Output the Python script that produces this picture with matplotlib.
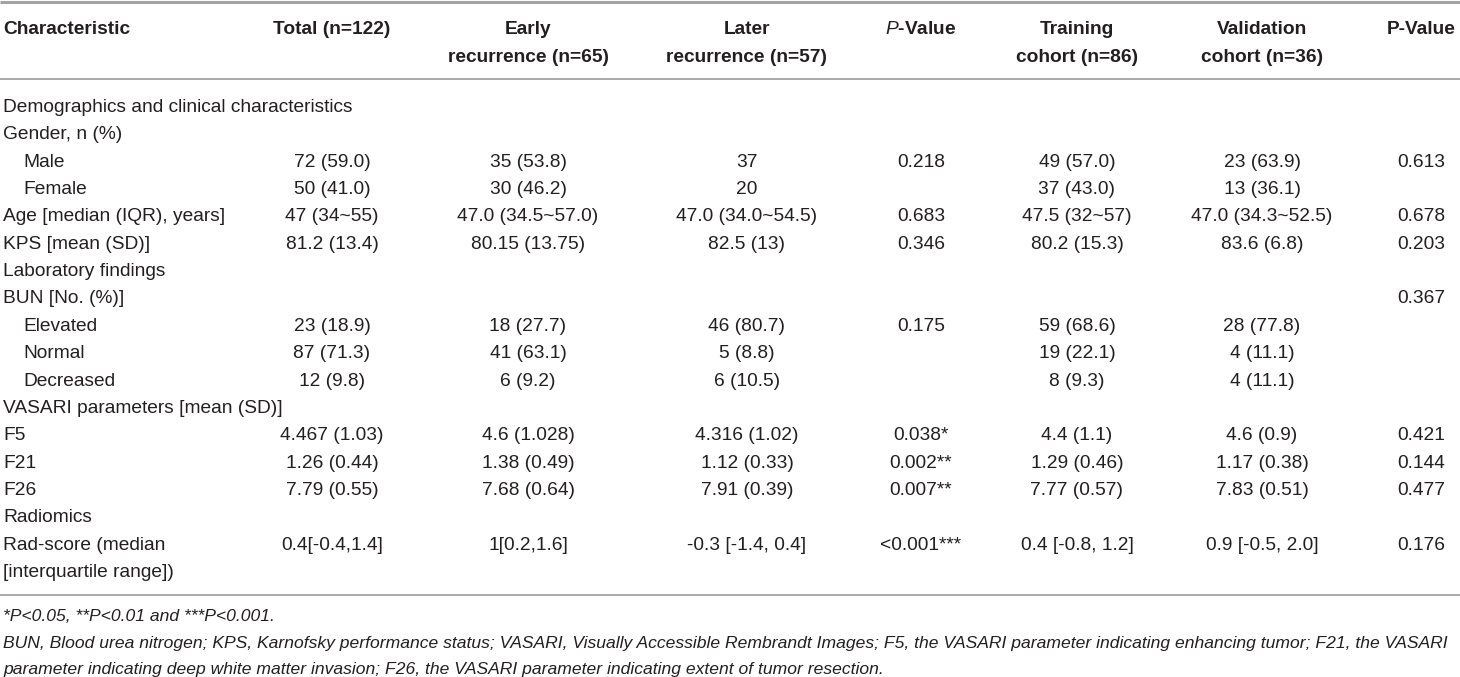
import matplotlib
matplotlib.use("Agg")
import matplotlib.pyplot as plt

# Table content
headers = [
    ["Characteristic", ""],
    ["Total (n=122)", ""],
    ["Early", "recurrence (n=65)"],
    ["Later", "recurrence (n=57)"],
    [r"$\bf{\it{P}}$-Value", ""],
    ["Training", "cohort (n=86)"],
    ["Validation", "cohort (n=36)"],
    ["P-Value", ""],
]

row_labels = [
    "Demographics and clinical characteristics",
    "Gender, n (%)",
    "Male",
    "Female",
    "Age [median (IQR), years]",
    "KPS [mean (SD)]",
    "Laboratory findings",
    "BUN [No. (%)]",
    "Elevated",
    "Normal",
    "Decreased",
    "VASARI parameters [mean (SD)]",
    "F5",
    "F21",
    "F26",
    "Radiomics",
    "Rad-score (median",
    "[interquartile range])",
]
indented = ["Male", "Female", "Elevated", "Normal", "Decreased"]

total = ["", "", "72 (59.0)", "50 (41.0)", "47 (34~55)", "81.2 (13.4)", "", "",
         "23 (18.9)", "87 (71.3)", "12 (9.8)", "", "4.467 (1.03)", "1.26 (0.44)",
         "7.79 (0.55)", "", "0.4[-0.4,1.4]", ""]
early = ["", "", "35 (53.8)", "30 (46.2)", "47.0 (34.5~57.0)", "80.15 (13.75)", "", "",
         "18 (27.7)", "41 (63.1)", "6 (9.2)", "", "4.6 (1.028)", "1.38 (0.49)",
         "7.68 (0.64)", "", "1[0.2,1.6]", ""]
later = ["", "", "37", "20", "47.0 (34.0~54.5)", "82.5 (13)", "", "",
         "46 (80.7)", "5 (8.8)", "6 (10.5)", "", "4.316 (1.02)", "1.12 (0.33)",
         "7.91 (0.39)", "", "-0.3 [-1.4, 0.4]", ""]
p_recur = ["", "", "0.218", "", "0.683", "0.346", "", "",
           "0.175", "", "", "", "0.038*", "0.002**",
           "0.007**", "", "<0.001***", ""]
training = ["", "", "49 (57.0)", "37 (43.0)", "47.5 (32~57)", "80.2 (15.3)", "", "",
            "59 (68.6)", "19 (22.1)", "8 (9.3)", "", "4.4 (1.1)", "1.29 (0.46)",
            "7.77 (0.57)", "", "0.4 [-0.8, 1.2]", ""]
validation = ["", "", "23 (63.9)", "13 (36.1)", "47.0 (34.3~52.5)", "83.6 (6.8)", "", "",
              "28 (77.8)", "4 (11.1)", "4 (11.1)", "", "4.6 (0.9)", "1.17 (0.38)",
              "7.83 (0.51)", "", "0.9 [-0.5, 2.0]", ""]
p_cohort = ["", "", "0.613", "", "0.678", "0.203", "", "0.367",
            "", "", "", "", "0.421", "0.144",
            "0.477", "", "0.176", ""]

footnotes = [
    "*P<0.05, **P<0.01 and ***P<0.001.",
    "BUN, Blood urea nitrogen; KPS, Karnofsky performance status; VASARI, Visually Accessible "
    "Rembrandt Images; F5, the VASARI parameter indicating enhancing tumor; F21, the VASARI",
    "parameter indicating deep white matter invasion; F26, the VASARI parameter indicating "
    "extent of tumor resection.",
]

# Layout (pixel coordinates)
W, H = 1460, 677
col_x = [3, 332, 528, 747, 921, 1077, 1262, 1421]
head_y = [27, 55]
first_row_y = 105
row_pitch = 27.35
foot_y = [615, 642, 668]
text_color = "#231f20"
rule_color = "#a3a3a3"
fs = 13.8
fs_foot = 12.6

plt.rcParams["font.family"] = ["Liberation Sans", "DejaVu Sans"]
plt.rcParams["mathtext.fontset"] = "custom"
plt.rcParams["mathtext.bf"] = "Liberation Sans:bold"
plt.rcParams["mathtext.it"] = "Liberation Sans:italic"
plt.rcParams["mathtext.bfit"] = "Liberation Sans:bold:italic"

fig = plt.figure(figsize=(W / 100, H / 100), dpi=100)
ax = fig.add_axes([0, 0, 1, 1])
ax.set_xlim(0, W)
ax.set_ylim(H, 0)
ax.axis("off")

# shift from visual line center to baseline
base = 7

# header
for j, (l1, l2) in enumerate(headers):
    ha = "left" if j == 0 else "center"
    ax.text(col_x[j], head_y[0] + base, l1, ha=ha, va="baseline",
            fontsize=fs, fontweight="bold", color=text_color)
    if l2:
        ax.text(col_x[j], head_y[1] + base, l2, ha=ha, va="baseline",
                fontsize=fs, fontweight="bold", color=text_color)

# rules
ax.plot([0, W], [1.5, 1.5], color=rule_color, lw=2.2, solid_capstyle="butt")
ax.plot([0, W], [79, 79], color=rule_color, lw=1.3, solid_capstyle="butt")
ax.plot([0, W], [595, 595], color=rule_color, lw=1.3, solid_capstyle="butt")

# body
columns = [total, early, later, p_recur, training, validation, p_cohort]
for i, label in enumerate(row_labels):
    y = first_row_y + row_pitch * i + base
    x0 = col_x[0] + (20 if label in indented else 0)
    ax.text(x0, y, label, ha="left", va="baseline", fontsize=fs, color=text_color)
    for j, col in enumerate(columns):
        if col[i]:
            ax.text(col_x[j + 1], y, col[i], ha="center", va="baseline",
                    fontsize=fs, color=text_color)

# footnotes
for k, note in enumerate(footnotes):
    ax.text(col_x[0], foot_y[k] + 6, note, ha="left", va="baseline",
            fontsize=fs_foot, fontstyle="italic", color=text_color)

fig.savefig("out.png", dpi=100, facecolor="white")
